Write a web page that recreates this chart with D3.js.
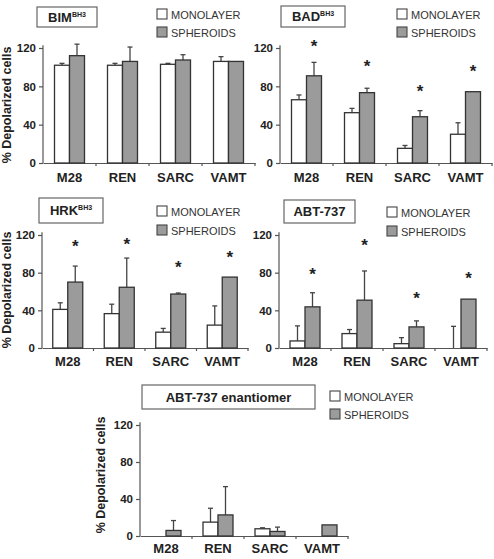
<!DOCTYPE html>
<html><head><meta charset="utf-8">
<script src="https://cdn.jsdelivr.net/npm/d3@7"></script>
<style>body{margin:0;background:#fff}svg{display:block}</style>
</head><body>
<svg id="c" width="494" height="559"></svg>
<script>
const categories = ["M28", "REN", "SARC", "VAMT"];
const series = ["MONOLAYER", "SPHEROIDS"];
const yTicks = [0, 40, 80, 120];
const yLabel = "% Depolarized cells";

// BIM BH3
const bimMono = [102, 102, 103, 106];
const bimMonoErr = [2, 2, 1, 5];
const bimSph = [112, 106, 107.5, 106];
const bimSphErr = [12, 15, 5.5, 0];
const bimStars = [null, null, null, null];
// BAD BH3
const badMono = [66, 52.5, 15.3, 30];
const badMonoErr = [5, 4.5, 3, 12];
const badSph = [91, 73.4, 48.3, 74.4];
const badSphErr = [14, 4.6, 6.3, 0];
const badStars = [123, 102, 76, 97];
// HRK BH3
const hrkMono = [41, 36.5, 16.8, 24.3];
const hrkMonoErr = [7, 10, 4, 20.4];
const hrkSph = [70, 64.5, 57.3, 75.3];
const hrkSphErr = [17, 31, 1.1, 0];
const hrkStars = [109, 112, 87, 98];
// ABT-737
const abtMono = [7.5, 15.3, 4.6, 0];
const abtMonoErr = [16, 4.3, 6.4, 23];
const abtSph = [43.7, 50.8, 22.4, 51.9];
const abtSphErr = [15, 31, 6.4, 0];
const abtStars = [80, 110.6, 54, 75];
// ABT-737 enantiomer
const enMono = [0, 15, 7.8, 0];
const enMonoErr = [0, 15, 1.1, 0];
const enSph = [6, 22.8, 4.9, 12];
const enSphErr = [10.7, 30.6, 4.7, 0];
const enStars = [null, null, null, null];

const panels = [
  {title:"BIM", sup:"BH3", mono:bimMono, monoErr:bimMonoErr, sph:bimSph, sphErr:bimSphErr, stars:bimStars,
   x:[43,255], y:[163,48], box:[37,7,60,20], leg:[157,9,18], ylab:[7,105], pad:10},
  {title:"BAD", sup:"BH3", mono:badMono, monoErr:badMonoErr, sph:badSph, sphErr:badSphErr, stars:badStars,
   x:[280,492], y:[163,48], box:[281,6,64,21], leg:[397,9,18], ylab:null, pad:10},
  {title:"HRK", sup:"BH3", mono:hrkMono, monoErr:hrkMonoErr, sph:hrkSph, sphErr:hrkSphErr, stars:hrkStars,
   x:[42,248], y:[348,235], box:[39,198,64,25], leg:[157,206,19], ylab:[7,290], pad:9},
  {title:"ABT-737", sup:"", mono:abtMono, monoErr:abtMonoErr, sph:abtSph, sphErr:abtSphErr, stars:abtStars,
   x:[279,487], y:[348,235], box:[284,200,71,23], leg:[387,207,19], ylab:null, pad:9},
  {title:"ABT-737 enantiomer", sup:"", mono:enMono, monoErr:enMonoErr, sph:enSph, sphErr:enSphErr, stars:enStars,
   x:[140,348], y:[536,425], box:[142,385,173,24], leg:[330,391,18], ylab:[101,475], pad:8}
];

const svg = d3.select("#c");
const font = "Arial, 'Liberation Sans', sans-serif";
const axisCol = "#555";
const barStroke = "#333";
const greyFill = "#9b9b9b";
const fills = {MONOLAYER:"#fff", SPHEROIDS:greyFill};

panels.forEach(p => {
  const g = svg.append("g");
  const x = d3.scaleBand().domain(categories).range(p.x).padding(0);
  const y = d3.scaleLinear().domain([0,120]).range(p.y);
  const sub = d3.scaleBand().domain(series).range([-15,15]).padding(0);

  // y axis
  const ya = g.append("g").attr("transform",`translate(${p.x[0]},0)`)
    .call(d3.axisLeft(y).tickValues(yTicks).tickSize(4).tickPadding(3));
  ya.select(".domain").attr("d", `M0,${y(0)}V${y(123)}`).attr("stroke",axisCol).attr("stroke-width",1.2);
  ya.selectAll(".tick line").attr("stroke",axisCol).attr("stroke-width",1.2);
  ya.selectAll(".tick text").attr("font-family",font).attr("font-weight","bold").attr("font-size",11.5).attr("fill","#222");

  // x axis
  const xa = g.append("g").attr("transform",`translate(0,${y(0)})`)
    .call(d3.axisBottom(x).tickSize(0).tickPadding(p.pad));
  xa.select(".domain").attr("stroke",axisCol).attr("stroke-width",1.2);
  xa.selectAll(".tick text").attr("font-family",font).attr("font-weight","bold").attr("font-size",13).attr("fill","#222");
  const bounds = categories.slice(1).map(c => x(c)).concat([p.x[1]]);
  xa.selectAll(".bt").data(bounds).join("line").attr("class","bt")
    .attr("x1",d=>d).attr("x2",d=>d).attr("y1",0).attr("y2",3)
    .attr("stroke",axisCol).attr("stroke-width",1.2);

  // bars
  const rows = [];
  categories.forEach((c,i) => {
    rows.push({c, s:"MONOLAYER", v:p.mono[i], e:p.monoErr[i]});
    rows.push({c, s:"SPHEROIDS", v:p.sph[i], e:p.sphErr[i]});
  });
  const cx = c => x(c) + x.bandwidth()/2;
  rows.filter(r => r.e > 0).forEach(r => {
    const xm = cx(r.c) + sub(r.s) + sub.bandwidth()/2;
    g.append("line").attr("x1",xm).attr("x2",xm).attr("y1",y(r.v)).attr("y2",y(r.v+r.e))
      .attr("stroke","#444").attr("stroke-width",1.3);
    g.append("line").attr("x1",xm-2.5).attr("x2",xm+2.5).attr("y1",y(r.v+r.e)).attr("y2",y(r.v+r.e))
      .attr("stroke","#444").attr("stroke-width",1.3);
  });
  g.selectAll(".bar").data(rows.filter(r => r.v > 0)).join("rect").attr("class","bar")
    .attr("x", r => cx(r.c) + sub(r.s))
    .attr("width", sub.bandwidth())
    .attr("y", r => y(r.v))
    .attr("height", r => y(0) - y(r.v))
    .attr("fill", r => fills[r.s]).attr("stroke", barStroke).attr("stroke-width",1.3);

  // stars
  categories.forEach((c,i) => {
    if (p.stars[i] == null) return;
    g.append("text").attr("x", cx(c) + sub("SPHEROIDS") + sub.bandwidth()/2).attr("y", y(p.stars[i]) + 7)
      .attr("text-anchor","middle").attr("font-family",font).attr("font-weight","bold")
      .attr("font-size",17).attr("fill","#222").text("*");
  });

  // title box
  const [bx,by,bw,bh] = p.box;
  g.append("rect").attr("x",bx).attr("y",by).attr("width",bw).attr("height",bh)
    .attr("fill","#fff").attr("stroke","#666").attr("stroke-width",1.2);
  const t = g.append("text").attr("x", bx+bw/2).attr("y", by+bh/2+4.5).attr("text-anchor","middle")
    .attr("font-family",font).attr("font-weight","bold").attr("font-size",13).attr("fill","#222");
  t.append("tspan").text(p.title);
  if (p.sup) t.append("tspan").attr("font-size",7).attr("dy",-5).text(p.sup);

  // legend
  const [lx,ly,ls] = p.leg;
  series.forEach((s,i) => {
    g.append("rect").attr("x",lx).attr("y",ly+i*ls).attr("width",10).attr("height",10)
      .attr("fill",fills[s]).attr("stroke","#444").attr("stroke-width",1.1);
    g.append("text").attr("x",lx+14).attr("y",ly+i*ls+9.5).attr("font-family",font)
      .attr("font-size",11).attr("fill","#333").text(s);
  });

  // y label
  if (p.ylab) {
    g.append("text").attr("transform",`translate(${p.ylab[0]+4},${p.ylab[1]}) rotate(-90)`)
      .attr("text-anchor","middle").attr("font-family",font).attr("font-weight","bold")
      .attr("font-size",12.5).attr("fill","#222").text(yLabel);
  }
});
</script>
</body></html>
